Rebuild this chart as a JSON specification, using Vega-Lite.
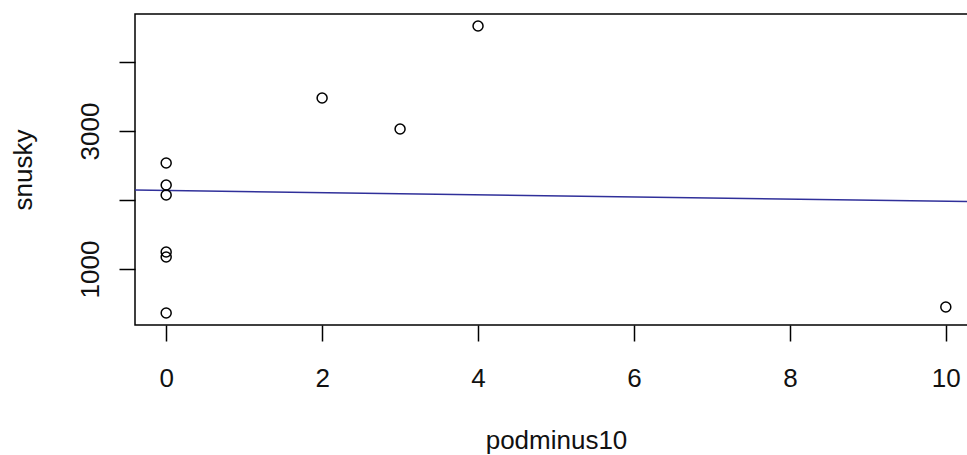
{
  "$schema": "https://vega.github.io/schema/vega-lite/v6.json",
  "autosize": "none",
  "width": 842,
  "height": 311,
  "padding": {"left": 135, "top": 14, "right": 0, "bottom": 130},
  "background": "white",
  "config": {
    "view": {"stroke": "black", "strokeWidth": 1.5},
    "font": "Liberation Sans",
    "axis": {
      "grid": false,
      "domain": false,
      "tickColor": "black",
      "tickWidth": 1.5,
      "tickSize": 16,
      "labelFont": "Liberation Sans",
      "titleFont": "Liberation Sans",
      "labelFontSize": 26,
      "titleFontSize": 26,
      "labelColor": "#111",
      "titleColor": "#111",
      "titleFontWeight": "normal"
    }
  },
  "datasets": {
    "pts": [
      {"podminus10": 0, "snusky": 2536},
      {"podminus10": 0, "snusky": 2217},
      {"podminus10": 0, "snusky": 2072},
      {"podminus10": 0, "snusky": 1246},
      {"podminus10": 0, "snusky": 1174},
      {"podminus10": 0, "snusky": 362},
      {"podminus10": 2, "snusky": 3478},
      {"podminus10": 3, "snusky": 3029},
      {"podminus10": 4, "snusky": 4522},
      {"podminus10": 10, "snusky": 449}
    ],
    "fit": [
      {"podminus10": -0.4, "snusky": 2144},
      {"podminus10": 10.4, "snusky": 1977}
    ]
  },
  "layer": [
    {
      "data": {"name": "fit"},
      "mark": {"type": "line", "color": "#30309a", "strokeWidth": 1.5},
      "encoding": {
        "x": {"field": "podminus10", "type": "quantitative"},
        "y": {"field": "snusky", "type": "quantitative"}
      }
    },
    {
      "data": {"name": "pts"},
      "mark": {"type": "point", "shape": "circle", "filled": false, "color": "black", "strokeWidth": 1.5, "size": 100, "opacity": 1},
      "encoding": {
        "x": {
          "field": "podminus10", "type": "quantitative",
          "scale": {"domain": [-0.4, 10.4], "nice": false, "zero": false},
          "axis": {
            "values": [0, 2, 4, 6, 8, 10],
            "format": "d",
            "title": "podminus10",
            "labelBaseline": "alphabetic",
            "labelPadding": 45,
            "titleBaseline": "alphabetic",
            "titleY": 123
          }
        },
        "y": {
          "field": "snusky", "type": "quantitative",
          "scale": {"domain": [188.4, 4695.7], "nice": false, "zero": false},
          "axis": {
            "values": [1000, 2000, 3000, 4000],
            "format": "d",
            "labelExpr": "datum.value % 2000 == 1000 ? datum.label : ''",
            "labelAngle": -90,
            "labelAlign": "center",
            "labelBaseline": "alphabetic",
            "labelPadding": 21,
            "title": "snusky",
            "titleBaseline": "alphabetic",
            "titleX": -104
          }
        }
      }
    }
  ]
}
